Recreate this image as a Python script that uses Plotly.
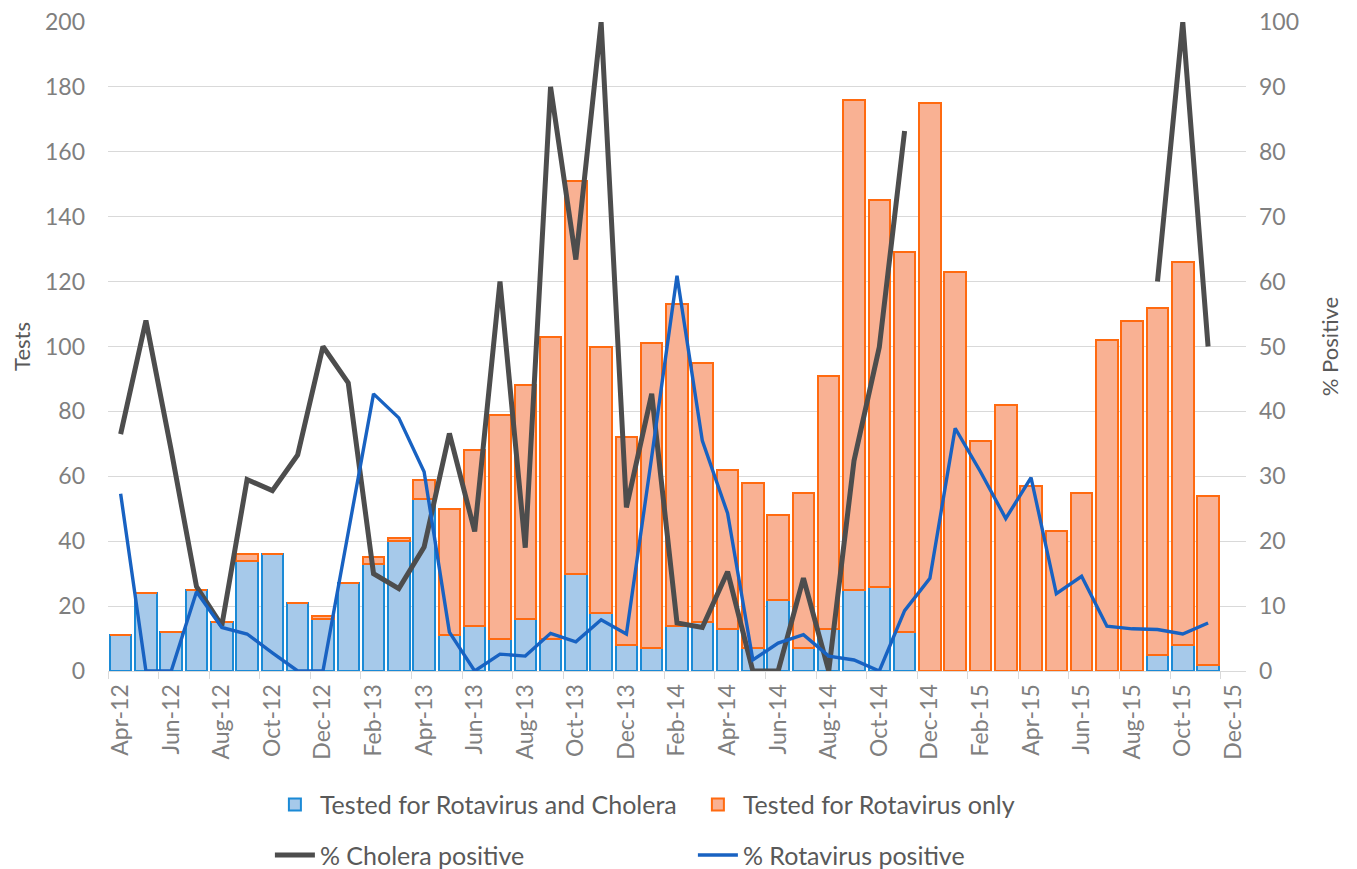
import plotly.graph_objects as go

months = ["Apr-12","May-12","Jun-12","Jul-12","Aug-12","Sep-12","Oct-12","Nov-12","Dec-12",
          "Jan-13","Feb-13","Mar-13","Apr-13","May-13","Jun-13","Jul-13","Aug-13","Sep-13","Oct-13","Nov-13","Dec-13",
          "Jan-14","Feb-14","Mar-14","Apr-14","May-14","Jun-14","Jul-14","Aug-14","Sep-14","Oct-14","Nov-14","Dec-14",
          "Jan-15","Feb-15","Mar-15","Apr-15","May-15","Jun-15","Jul-15","Aug-15","Sep-15","Oct-15","Nov-15","Dec-15"]

# Tests for rotavirus and cholera (blue segment)
tested_both = [11, 24, 12, 25, 15, 34, 36, 21, 16,
               27, 33, 40, 53, 11, 14, 10, 16, 10, 30, 18, 8,
               7, 14, 15, 13, 7, 22, 7, 13, 25, 26, 12, 0,
               0, 0, 0, 0, 0, 0, 0, 0, 5, 8, 2, None]
# Total tests per month (bar top)
tested_total = [11, 24, 12, 25, 15, 36, 36, 21, 17,
                27, 35, 41, 59, 50, 68, 79, 88, 103, 151, 100, 72,
                101, 113, 95, 62, 58, 48, 55, 91, 176, 145, 129, 175,
                123, 71, 82, 57, 43, 55, 102, 108, 112, 126, 54, None]

cholera_pct = [36.5, 54, 34, 13, 7, 29.5, 27.8, 33.3, 50,
               44.4, 15, 12.7, 19.1, 36.6, 21.5, 60, 19, 90, 63.4, 100, 25.2,
               42.7, 7.4, 6.7, 15.3, 0, 0, 14.3, 0, 32.4, 49.9, 83.2, None,
               None, None, None, None, None, None, None, None, 60, 100, 50, None]
rota_pct = [27.3, 0, 0, 12.2, 6.7, 5.7, 2.8, 0, 0,
            21.5, 42.7, 39, 30.7, 6, 0, 2.6, 2.3, 5.8, 4.5, 7.9, 5.7,
            33, 60.9, 35.5, 24.3, 1.7, 4.3, 5.6, 2.3, 1.7, 0, 9.3, 14.3,
            37.4, 30.7, 23.5, 29.8, 11.9, 14.6, 6.9, 6.5, 6.4, 5.7, 7.4, None]

tested_rota_only = [None if (t is None or b is None) else t - b for t, b in zip(tested_total, tested_both)]
x = list(range(len(months)))

FONT = "Lato"
GRAY = "#7f7f7f"
DARK = "#595959"

fig = go.Figure()
fig.add_trace(go.Bar(x=x, y=tested_both, name="Tested for Rotavirus and Cholera",
                     marker=dict(color="#a6c9ea", line=dict(color="#1b8ad6", width=2)),
                     legend="legend"))
fig.add_trace(go.Bar(x=x, y=tested_rota_only, name="Tested for Rotavirus only",
                     marker=dict(color="#f9b193", line=dict(color="#ff6a10", width=2)),
                     legend="legend"))
fig.add_trace(go.Scatter(x=x, y=cholera_pct, name="% Cholera positive", mode="lines",
                         line=dict(color="#4d4d4d", width=5), yaxis="y2", connectgaps=False,
                         legend="legend2"))
fig.add_trace(go.Scatter(x=x, y=rota_pct, name="% Rotavirus positive", mode="lines",
                         line=dict(color="#1862c2", width=3.4), yaxis="y2", connectgaps=False,
                         legend="legend2"))

fig.update_layout(
    width=1357, height=869,
    barmode="stack", bargap=0.15,
    plot_bgcolor="white", paper_bgcolor="white",
    margin=dict(l=100, r=119, t=14, b=206, autoexpand=False),
    font=dict(family=FONT, size=18, color=GRAY),
    xaxis=dict(
        range=[-0.5, 44.5],
        tickmode="array", tickvals=x[::2], ticktext=months[::2],
        tickangle=-90, ticks="", showgrid=False,
        showline=True, linecolor="#d9d9d9", linewidth=1,
        tickfont=dict(size=23, color=GRAY), ticklabelstandoff=3,
        minor=dict(tick0=-0.5, dtick=2, ticks="outside", ticklen=7, tickcolor="#d9d9d9", showgrid=False),
        zeroline=False,
    ),
    yaxis=dict(
        range=[0, 200], dtick=20, showgrid=True, gridcolor="#d9d9d9", gridwidth=1,
        zeroline=False, ticks="", tickfont=dict(size=23, color=GRAY), ticklabelstandoff=22,
        ticklabeloverflow="allow",
        title=dict(text="Tests", font=dict(size=22, color=DARK), standoff=18),
    ),
    yaxis2=dict(
        range=[0, 100], dtick=10, overlaying="y", side="right", showgrid=False,
        zeroline=False, ticks="", tickfont=dict(size=23, color=GRAY), ticklabelstandoff=12,
        ticklabeloverflow="allow",
        title=dict(text="% Positive", font=dict(size=22, color=DARK), standoff=24),
    ),
    legend=dict(orientation="h", xref="container", yref="container", x=0.193, y=0.083,
                xanchor="left", yanchor="middle", entrywidth=368, entrywidthmode="pixels",
                font=dict(size=25, color=DARK), traceorder="normal", itemwidth=40),
    legend2=dict(orientation="h", xref="container", yref="container", x=0.193, y=0.025,
                 xanchor="left", yanchor="middle", entrywidth=368, entrywidthmode="pixels",
                 font=dict(size=25, color=DARK), traceorder="normal", itemwidth=40),
)

fig.write_html("out.html")
